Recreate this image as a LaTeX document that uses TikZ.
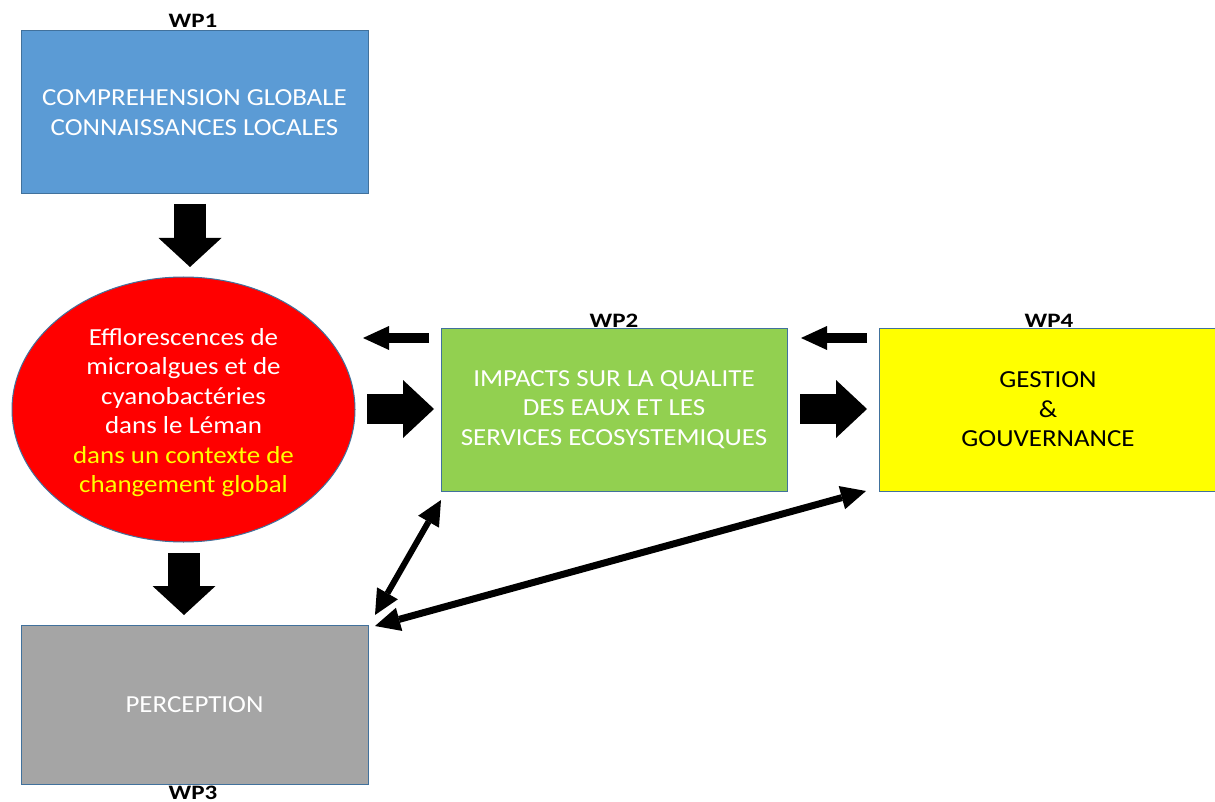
\documentclass[tikz,border=0pt]{standalone}
\usepackage{fontspec}
\setmainfont{Carlito}[FakeStretch=1.1]
\newfontfamily\wpfont{Carlito}[FakeStretch=1.22]
\usetikzlibrary{shapes.geometric,arrows.meta}
\definecolor{wpblue}{HTML}{5B9BD5}
\definecolor{wpgreen}{HTML}{92D050}
\definecolor{wpgray}{HTML}{A5A5A5}
\definecolor{wpyellow}{HTML}{FFFF00}
\definecolor{wpred}{HTML}{FF0000}
\definecolor{wpedge}{HTML}{41719C}
\begin{document}
\begin{tikzpicture}[x=1pt,y=-1pt,
  wpbox/.style={rectangle, draw=wpedge, line width=1pt, inner sep=0pt, align=center,
    font=\fontsize{24.5}{29.5}\selectfont, text=white},
  wplabel/.style={font=\wpfont\bfseries\fontsize{20.5}{24}\selectfont, anchor=base, inner sep=0pt},
  blkdown/.style={line width=32pt, -{Triangle[length=29pt,width=63pt,line width=0pt]}},
  blkright/.style={line width=30pt, -{Triangle[length=31pt,width=58pt,line width=0pt]}},
  blkleft/.style={line width=10pt, -{Triangle[length=26pt,width=24pt,line width=0pt]}},
  twohead/.style={{Triangle[length=25pt,width=24pt,line width=0pt]}-{Triangle[length=25pt,width=24pt,line width=0pt]}}
]
\useasboundingbox (0,0) rectangle (1215,802);
\fill[white] (0,0) rectangle (1215,802);

% boxes
\node[wpbox, fill=wpblue, minimum width=347pt, minimum height=163pt] (wp1) at (194.5,112.5)
  {COMPREHENSION GLOBALE\\CONNAISSANCES LOCALES};
\node[ellipse, draw=wpedge, line width=1pt, fill=wpred, inner sep=0pt,
  minimum width=343pt, minimum height=265pt] (ell) at (183.5,409.5) {};
\node[align=center, inner sep=0pt, font=\fontsize{24.5}{29.5}\selectfont, text=white]
  (elltext) at ([yshift=-3pt]ell.center)
  {Efflorescences de\\microalgues et de\\cyanobactéries\\dans le Léman\\
   \textcolor{wpyellow}{dans un contexte de}\\\textcolor{wpyellow}{changement global}};
\node[wpbox, fill=wpgreen, minimum width=346pt, minimum height=163pt] (wp2) at (614,409.5)
  {IMPACTS SUR LA QUALITE\\DES EAUX ET LES\\SERVICES ECOSYSTEMIQUES};
\node[wpbox, fill=wpyellow, text=black, minimum width=338pt, minimum height=163pt] (wp4) at (1048,409.5)
  {GESTION\\\&\\GOUVERNANCE};
\node[wpbox, fill=wpgray, minimum width=347pt, minimum height=159pt] (wp3) at (194.5,704.5)
  {PERCEPTION};

% labels
\node[wplabel] (l1) at (193,28) {WP1};
\node[wplabel] (l2) at (614,327) {WP2};
\node[wplabel] (l4) at (1049,327) {WP4};
\node[wplabel] (l3) at (193,799) {WP3};

% arrow end points
\coordinate (d1a) at (190,204);  \coordinate (d1b) at (190,267);
\coordinate (d2a) at (184,553);  \coordinate (d2b) at (184,615);
\coordinate (r1a) at (367,409);  \coordinate (r1b) at (434,409);
\coordinate (r2a) at (800,409);  \coordinate (r2b) at (867,409);
\coordinate (s1a) at (429,338);  \coordinate (s1b) at (363,338);
\coordinate (s2a) at (867,338);  \coordinate (s2b) at (801,338);
\coordinate (t1a) at (441,500);  \coordinate (t1b) at (375,615);
\coordinate (t2a) at (866,491);  \coordinate (t2b) at (375,626);

\draw[blkdown] (d1a) -- (d1b);
\draw[blkdown] (d2a) -- (d2b);
\draw[blkright] (r1a) -- (r1b);
\draw[blkright] (r2a) -- (r2b);
\draw[blkleft] (s1a) -- (s1b);
\draw[blkleft] (s2a) -- (s2b);
\draw[twohead, line width=6pt] (t1a) -- (t1b);
\draw[twohead, line width=7pt] (t2a) -- (t2b);
\end{tikzpicture}
\end{document}
